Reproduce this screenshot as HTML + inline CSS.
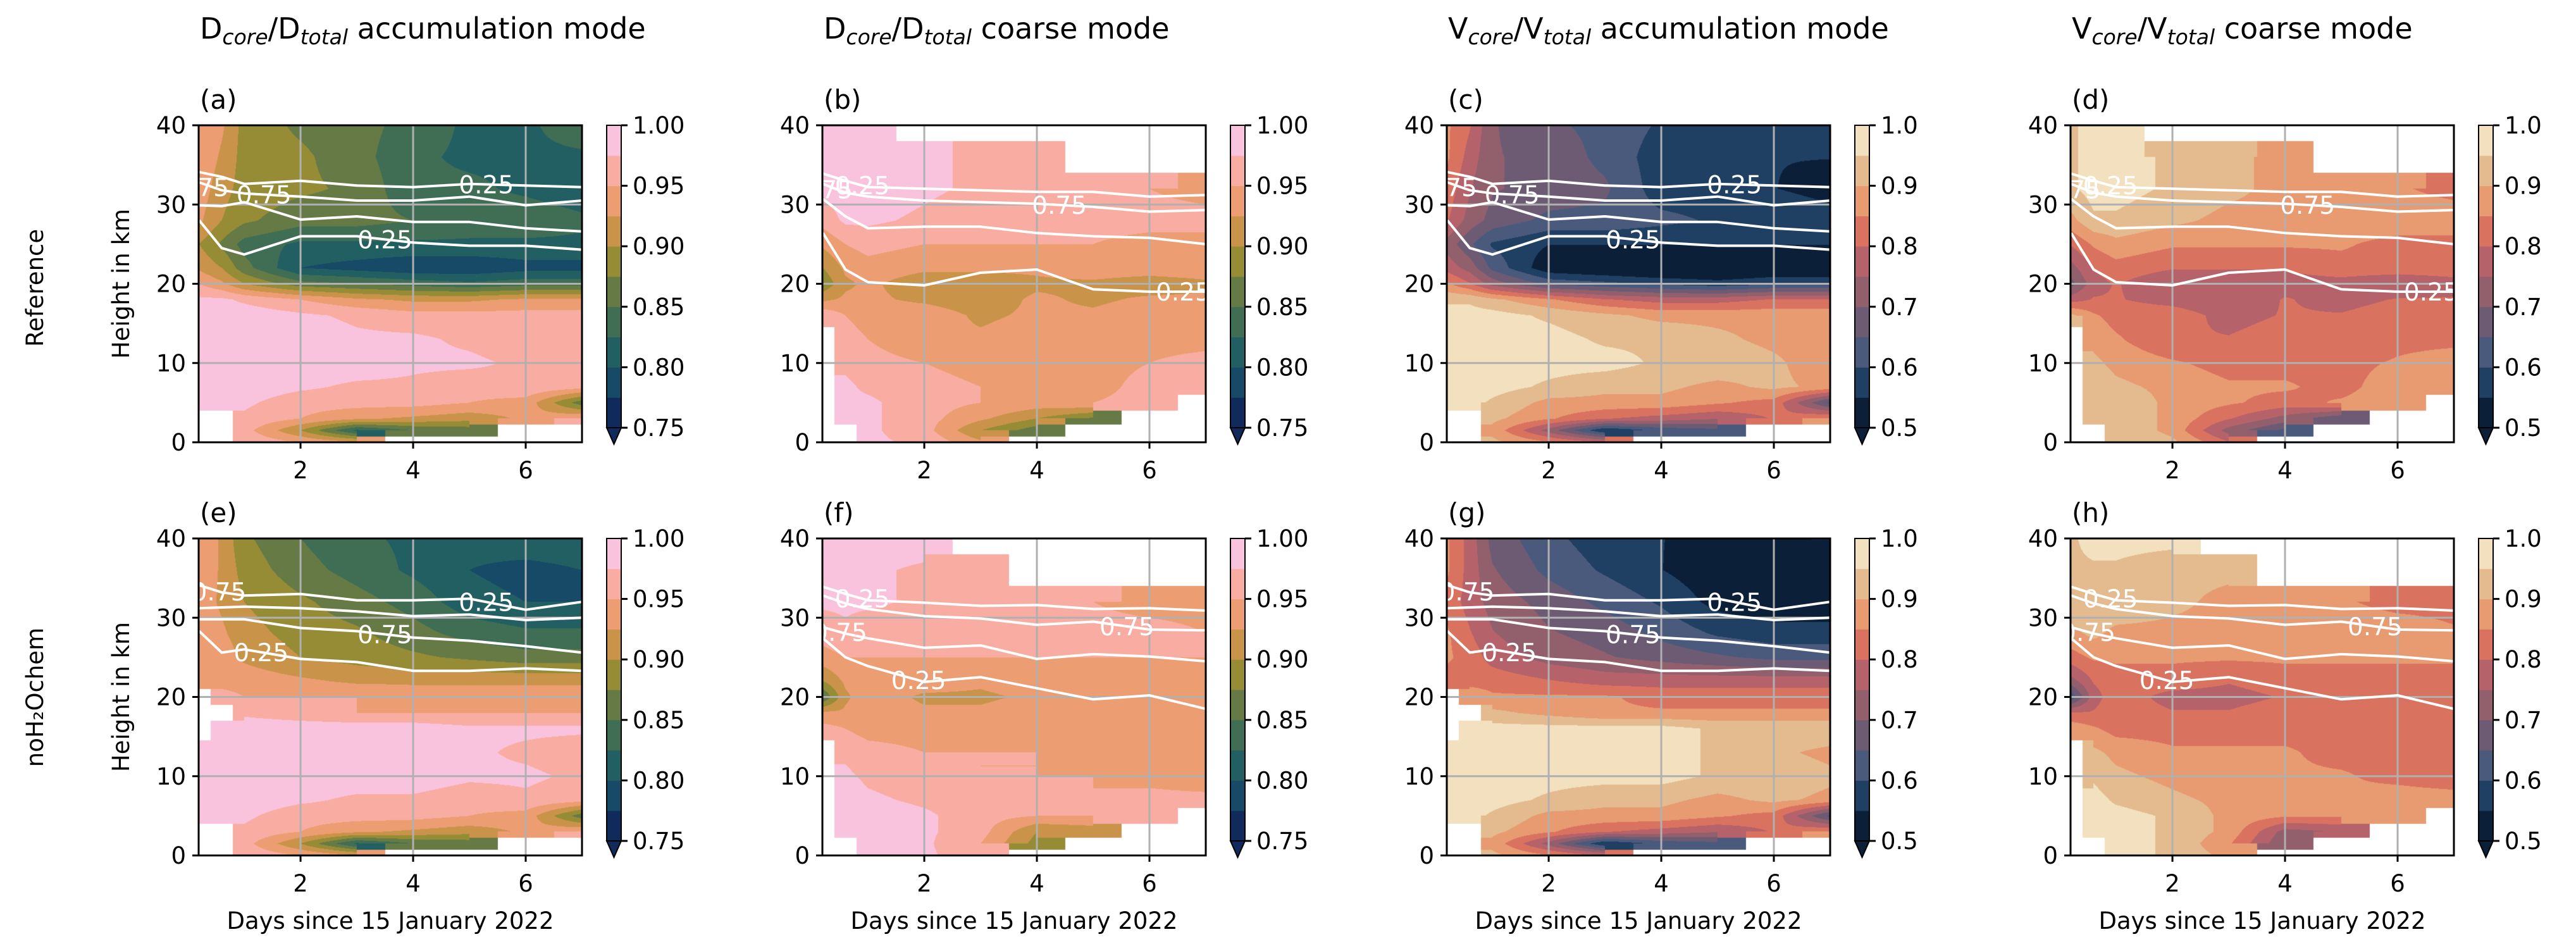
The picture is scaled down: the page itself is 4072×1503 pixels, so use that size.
<!DOCTYPE html>
<html><head><meta charset="utf-8">
<style>
html,body{margin:0;padding:0;background:#fff;}
#wrap{position:relative;width:4072px;height:1503px;overflow:hidden;background:#fff;font-family:"DejaVu Sans","Liberation Sans",sans-serif;}
canvas{position:absolute;}
svg{position:absolute;left:0;top:0;}
</style></head>
<body>
<div id="wrap">
<svg id="ov" width="4072" height="1503"></svg>
</div>
<script>
// ---------- data ----------
const times=[0.2,0.6,1,2,3,4,5,6,7];
const heights=[0,1.5,3,5,7,10,13,16,18,20,22,25,28,32,36,40];
// D_core/D_total accumulation mode, Reference (rows bottom->top)
const accRef=[
[null,null,0.97,0.95,0.93,null,null,null,null],
[null,null,0.96,0.90,0.82,0.85,0.86,null,null],
[null,null,0.97,0.95,0.93,0.92,0.91,0.93,0.95],
[0.99,0.99,0.98,0.96,0.96,0.96,0.95,0.94,0.86],
[0.99,0.99,0.99,0.98,0.97,0.97,0.96,0.97,0.96],
[0.99,0.99,0.99,0.99,0.99,0.98,0.98,0.97,0.95],
[0.99,0.99,0.99,0.99,0.98,0.98,0.97,0.96,0.95],
[0.99,0.99,0.99,0.98,0.97,0.96,0.96,0.96,0.96],
[0.98,0.98,0.97,0.95,0.93,0.92,0.92,0.93,0.93],
[0.95,0.93,0.90,0.86,0.85,0.84,0.83,0.84,0.84],
[0.92,0.90,0.86,0.80,0.79,0.78,0.78,0.79,0.79],
[0.90,0.87,0.84,0.82,0.82,0.82,0.82,0.82,0.82],
[0.93,0.90,0.88,0.86,0.86,0.85,0.84,0.84,0.83],
[0.94,0.91,0.89,0.88,0.87,0.83,0.83,0.82,0.81],
[0.95,0.92,0.89,0.88,0.86,0.83,0.82,0.82,0.82],
[0.95,0.93,0.89,0.87,0.86,0.84,0.82,0.82,0.84]];
// D_core/D_total coarse mode, Reference
const coarseRef=[
[null,null,0.98,0.97,0.93,null,null,null,null],
[null,null,0.98,0.96,0.90,0.86,null,null,null],
[null,0.98,0.98,0.96,0.93,0.90,0.87,null,null],
[null,0.98,0.98,0.96,0.95,0.94,0.95,0.96,null],
[null,0.98,0.97,0.96,0.95,0.95,0.94,0.96,0.96],
[null,0.97,0.96,0.95,0.94,0.94,0.94,0.95,0.96],
[null,0.96,0.95,0.93,0.93,0.94,0.93,0.94,0.94],
[0.97,0.95,0.94,0.94,0.92,0.93,0.93,0.94,0.94],
[0.92,0.93,0.93,0.92,0.91,0.93,0.92,0.93,0.93],
[0.88,0.92,0.93,0.91,0.91,0.92,0.92,0.91,0.92],
[0.90,0.93,0.94,0.93,0.93,0.93,0.94,0.94,0.94],
[0.93,0.95,0.96,0.95,0.95,0.95,0.95,0.94,0.94],
[0.96,0.98,0.98,0.97,0.96,0.96,0.96,0.96,0.96],
[0.98,0.99,0.99,0.98,0.97,0.96,0.96,0.95,0.94],
[0.98,0.99,0.99,0.98,0.97,0.96,null,null,null],
[0.98,0.99,0.99,null,null,null,null,null,null]];
// D_core/D_total accumulation mode, noH2Ochem
const accNo=[
[null,null,0.97,0.95,0.93,null,null,null,null],
[null,null,0.96,0.90,0.82,0.85,0.86,null,null],
[null,null,0.97,0.95,0.93,0.92,0.91,0.93,0.95],
[0.99,0.99,0.98,0.96,0.96,0.96,0.95,0.94,0.86],
[0.99,0.99,0.99,0.98,0.97,0.97,0.96,0.97,0.96],
[0.99,0.99,0.99,0.99,0.99,0.99,0.98,0.98,0.97],
[0.99,0.99,0.99,0.99,0.99,0.99,0.98,0.97,0.96],
[null,0.99,0.99,0.99,0.99,0.99,0.98,0.98,0.98],
[null,null,0.97,0.96,0.95,0.95,0.95,0.95,0.95],
[null,0.96,0.95,0.95,0.95,0.94,0.94,0.94,0.94],
[0.94,0.94,0.94,0.93,0.92,0.92,0.92,0.92,0.92],
[0.95,0.94,0.92,0.90,0.89,0.88,0.87,0.86,0.86],
[0.95,0.93,0.91,0.89,0.88,0.86,0.84,0.83,0.83],
[0.94,0.92,0.90,0.88,0.86,0.84,0.81,0.80,0.80],
[0.95,0.92,0.89,0.86,0.84,0.82,0.80,0.79,0.80],
[0.95,0.92,0.88,0.85,0.83,0.82,0.81,0.82,0.82]];
// D_core/D_total coarse mode, noH2Ochem
const coarseNo=[
[null,null,0.99,0.98,0.96,null,null,null,null],
[null,null,0.99,0.98,0.95,0.89,null,null,null],
[null,0.99,0.99,0.98,0.96,0.90,0.91,null,null],
[null,0.99,0.99,0.98,0.96,0.95,0.95,0.96,null],
[null,0.99,0.98,0.97,0.96,0.96,0.95,0.96,0.96],
[null,0.98,0.97,0.96,0.95,0.95,0.95,0.94,0.93],
[null,0.97,0.96,0.95,0.95,0.95,0.94,0.94,0.94],
[0.96,0.95,0.94,0.94,0.94,0.94,0.94,0.94,0.94],
[0.93,0.93,0.94,0.93,0.93,0.94,0.94,0.94,0.94],
[0.85,0.92,0.94,0.92,0.92,0.93,0.93,0.93,0.93],
[0.90,0.93,0.94,0.94,0.93,0.94,0.94,0.94,0.94],
[0.94,0.95,0.95,0.95,0.95,0.95,0.95,0.95,0.95],
[0.96,0.97,0.96,0.96,0.96,0.96,0.96,0.96,0.95],
[0.98,0.98,0.98,0.97,0.96,0.96,0.95,0.94,0.94],
[0.98,0.98,0.98,0.97,0.97,null,null,null,null],
[0.98,0.99,0.99,0.99,null,null,null,null,null]];
// V_core/V_total = (D_core/D_total)^3
const cube=a=>a.map(r=>r.map(v=>v==null?null:v*v*v));
const volAccRef=cube(accRef), volCoarseRef=cube(coarseRef), volAccNo=cube(accNo), volCoarseNo=cube(coarseNo);

// contour lines (heights in km at contourTimes); 4 lines per set
const contourTimes=[0.2,0.6,1,2,3,4,5,6,7];
const ctAccRef=[
[34.1,33.5,32.6,33.0,32.4,32.2,32.6,32.4,32.2],
[32.8,31.8,31.4,31.0,30.5,30.5,31.0,29.9,30.5],
[29.9,29.8,30.3,28.1,28.5,27.8,27.8,27.0,26.6],
[28.0,24.5,23.7,26.0,26.0,25.2,24.8,24.8,24.3]];
const ctCoarseRef=[
[33.9,33.0,32.2,32.0,31.8,31.6,31.6,31.0,31.2],
[32.6,31.5,31.0,30.5,30.3,30.1,29.7,29.1,29.3],
[30.7,28.5,27.0,27.2,27.2,26.4,26.0,25.8,25.0],
[26.4,21.8,20.2,19.8,21.4,21.8,19.3,19.0,19.0]];
const ctAccNo=[
[34.1,33.2,32.8,33.0,32.2,32.2,32.4,31.0,32.0],
[31.2,31.3,31.4,31.2,30.8,30.2,30.4,29.7,30.0],
[29.8,29.8,29.8,28.7,28.3,27.5,27.1,26.4,25.6],
[28.3,25.6,26.0,24.8,24.4,23.3,23.3,23.6,23.3]];
const ctCoarseNo=[
[33.9,33.0,32.2,31.9,31.5,31.6,31.1,31.2,30.9],
[32.8,31.8,31.1,30.2,29.9,29.1,29.5,28.5,28.4],
[28.8,28.0,27.4,26.2,26.5,24.8,25.4,25.1,24.5],
[27.4,25.0,23.9,21.9,22.5,21.1,19.7,20.2,18.5]];
// contour labels: [line index, time, text]
const lblAccRef=[[0,5.3,"0.25"],[1,1.35,"0.75"],[3,3.5,"0.25"],[1,0.45,"75"]];
const lblCoarseRef=[[0,0.9,"0.25"],[1,4.4,"0.75"],[3,6.6,"0.25"],[1,0.45,"75"]];
const lblAccNo=[[0,5.3,"0.25"],[2,3.5,"0.75"],[3,1.3,"0.25"],[0,0.55,"0.75"]];
const lblCoarseNo=[[0,0.9,"0.25"],[1,5.6,"0.75"],[3,1.9,"0.25"],[2,0.5,"0.75"]];

// colormaps
const dLevels=[0.75,0.775,0.8,0.825,0.85,0.875,0.9,0.925,0.95,0.975,1.0];
const dColors=["#112a5c","#164a66","#225f62","#3f6e54","#667a45","#968c36","#c9944a","#ec9e72","#f9ada2","#f9c3de"];
const vLevels=[0.5,0.55,0.6,0.65,0.7,0.75,0.8,0.85,0.9,0.95,1.0];
const vColors=["#0b1f38","#1f3f63","#4a5a7c","#6d5b74","#925f6d","#b6626a","#da7260","#e89a70","#e3bb8f","#f2e0be"];
const dTicks=["0.75","0.80","0.85","0.90","0.95","1.00"];
const vTicks=["0.5","0.6","0.7","0.8","0.9","1.0"];

const titles=[
["D","core","/D","total"," accumulation mode"],
["D","core","/D","total"," coarse mode"],
["V","core","/V","total"," accumulation mode"],
["V","core","/V","total"," coarse mode"]];
const panels=[
{lab:"(a)",col:0,row:0,data:accRef,kind:"d",ct:ctAccRef,cl:lblAccRef},
{lab:"(b)",col:1,row:0,data:coarseRef,kind:"d",ct:ctCoarseRef,cl:lblCoarseRef},
{lab:"(c)",col:2,row:0,data:volAccRef,kind:"v",ct:ctAccRef,cl:lblAccRef},
{lab:"(d)",col:3,row:0,data:volCoarseRef,kind:"v",ct:ctCoarseRef,cl:lblCoarseRef},
{lab:"(e)",col:0,row:1,data:accNo,kind:"d",ct:ctAccNo,cl:lblAccNo},
{lab:"(f)",col:1,row:1,data:coarseNo,kind:"d",ct:ctCoarseNo,cl:lblCoarseNo},
{lab:"(g)",col:2,row:1,data:volAccNo,kind:"v",ct:ctAccNo,cl:lblAccNo},
{lab:"(h)",col:3,row:1,data:volCoarseNo,kind:"v",ct:ctCoarseNo,cl:lblCoarseNo}];

// ---------- layout ----------
const colL=[314,1300,2287,3273], W=606, rowT=[198,851], Hh=501;
const T0=0.19, T1=7.0, H0=0, H1=40;
const NS="http://www.w3.org/2000/svg";
const ov=document.getElementById('ov'), wrap=document.getElementById('wrap');
function el(tag,attrs,parent,text){const e=document.createElementNS(NS,tag);for(const k in attrs)e.setAttribute(k,attrs[k]);if(text!=null)e.textContent=text;(parent||ov).appendChild(e);return e;}
function locate(arr,v){let i=0;while(i<arr.length-2&&v>arr[i+1])i++;let f=(v-arr[i])/(arr[i+1]-arr[i]);return [i,Math.max(0,Math.min(1,f))];}
function sample(d,t,h){
  const [i,fx]=locate(times,t),[j,fy]=locate(heights,h);
  const a=d[j][i],b=d[j][i+1],c=d[j+1][i],e=d[j+1][i+1];
  if(a==null||b==null||c==null||e==null){
    const ni=fx<0.5?i:i+1,nj=fy<0.5?j:j+1;return d[nj][ni];}
  return (a*(1-fx)+b*fx)*(1-fy)+(c*(1-fx)+e*fx)*fy;}
function hex(c){return [parseInt(c.substr(1,2),16),parseInt(c.substr(3,2),16),parseInt(c.substr(5,2),16)];}

panels.forEach(p=>{
  const L=colL[p.col], T=rowT[p.row];
  const xs=t=>L+(t-T0)/(T1-T0)*W, ys=h=>T+(H1-h)/(H1-H0)*Hh;
  const lev=p.kind=="d"?dLevels:vLevels, cols=(p.kind=="d"?dColors:vColors).map(hex);
  const cv=document.createElement('canvas');
  cv.width=W;cv.height=Hh;cv.style.left=L+'px';cv.style.top=T+'px';
  
  
  wrap.insertBefore(cv,ov);
  const ctx=cv.getContext('2d'),img=ctx.createImageData(W,Hh);
  for(let y=0;y<Hh;y++){const h=H1-(y+0.5)/Hh*(H1-H0);
    for(let x=0;x<W;x++){const t=T0+(x+0.5)/W*(T1-T0);const v=sample(p.data,t,h);const k=(y*W+x)*4;
      if(v==null){img.data[k]=255;img.data[k+1]=255;img.data[k+2]=255;img.data[k+3]=255;continue;}
      let n=0;while(n<lev.length-2&&v>=lev[n+1])n++;const c=cols[n];
      img.data[k]=c[0];img.data[k+1]=c[1];img.data[k+2]=c[2];img.data[k+3]=255;}}
  ctx.putImageData(img,0,0);
  const g=el('g',{});
  [2,4,6].forEach(t=>{const gl=el('line',{x1:xs(t),x2:xs(t),y1:T,y2:T+Hh,stroke:'#b0b0b0','stroke-width':3},g);
    });
  [10,20,30].forEach(h=>{const gl=el('line',{x1:L,x2:L+W,y1:ys(h),y2:ys(h),stroke:'#b0b0b0','stroke-width':3},g);
    });
  p.ct.forEach((line,li)=>{const pts=line.map((h,k)=>xs(contourTimes[k]).toFixed(1)+','+ys(h).toFixed(1)).join(' ');
    const pl=el('polyline',{points:pts,fill:'none',stroke:'#fff','stroke-width':4,'stroke-linejoin':'round'},g);
    });
  p.cl.forEach(c=>{const line=p.ct[c[0]];const [i,f]=locate(contourTimes,c[1]);const h=line[i]*(1-f)+line[i+1]*f;
    const tx=el('text',{x:xs(c[1]),y:ys(h)+14,'text-anchor':'middle','font-size':39,fill:'#fff'},g,c[2]);
    });
  const fr=el('rect',{x:L,y:T,width:W,height:Hh,fill:'none',stroke:'#000','stroke-width':3},g);
  
  [0,10,20,30,40].forEach(h=>{el('line',{x1:L-10,x2:L,y1:ys(h),y2:ys(h),stroke:'#000','stroke-width':3},g);
    const tl=el('text',{x:L-20,y:ys(h)+13,'text-anchor':'end','font-size':37},g,String(h));
    });
  [2,4,6].forEach(t=>{el('line',{x1:xs(t),x2:xs(t),y1:T+Hh,y2:T+Hh+10,stroke:'#000','stroke-width':3},g);
    const tl=el('text',{x:xs(t),y:T+Hh+57,'text-anchor':'middle','font-size':37},g,String(t));
    });
  const pl=el('text',{x:L+2,y:T-26,'font-size':42},g,p.lab);
  
  const cbx=L+645,cbw=23,cbT=T,cbB=T+Hh-23;
  const cy=v=>cbB-(v-lev[0])/(lev[lev.length-1]-lev[0])*(cbB-cbT);
  cols.forEach((c,n)=>{const r=el('rect',{x:cbx,y:cy(lev[n+1]),width:cbw,height:cy(lev[n])-cy(lev[n+1])+0.5,fill:(p.kind=="d"?dColors:vColors)[n]},g);
    });
  const tri=el('polygon',{points:`${cbx},${cbB} ${cbx+cbw},${cbB} ${cbx+cbw/2},${cbB+26}`,fill:(p.kind=="d"?dColors:vColors)[0],stroke:'#000','stroke-width':2},g);
  
  el('rect',{x:cbx,y:cbT,width:cbw,height:cbB-cbT,fill:'none',stroke:'#000','stroke-width':2},g);
  const tk=p.kind=="d"?dTicks:vTicks;
  tk.forEach(s=>{const v=parseFloat(s);el('line',{x1:cbx+cbw,x2:cbx+cbw+10,y1:cy(v),y2:cy(v),stroke:'#000','stroke-width':3},g);
    const t=el('text',{x:cbx+cbw+18,y:cy(v)+13,'font-size':37},g,s);
    });
});
titles.forEach((tt,c)=>{const t=el('text',{x:colL[c]+2,y:61,'font-size':46});
  
  tt.forEach((s,k)=>{el('tspan',k%2?{'font-size':33,'font-style':'italic',dy:9}:{dy:k?-9:0},t,s);});});
const yl=[["Reference",455],["noH\u2082Ochem",1102]];
yl.forEach(r=>{const t=el('text',{x:0,y:0,'font-size':37,'text-anchor':'middle',transform:`translate(68,${r[1]}) rotate(-90)`},ov,r[0]);
  });
[0,1].forEach(r=>{const t=el('text',{x:0,y:0,'font-size':37,'text-anchor':'middle',transform:`translate(204,${rowT[r]+Hh/2}) rotate(-90)`},ov,'Height in km');
  });
colL.forEach(L=>{const t=el('text',{x:L+W/2,y:1468,'font-size':37,'text-anchor':'middle'},ov,'Days since 15 January 2022');
  });
</script>
</body></html>
